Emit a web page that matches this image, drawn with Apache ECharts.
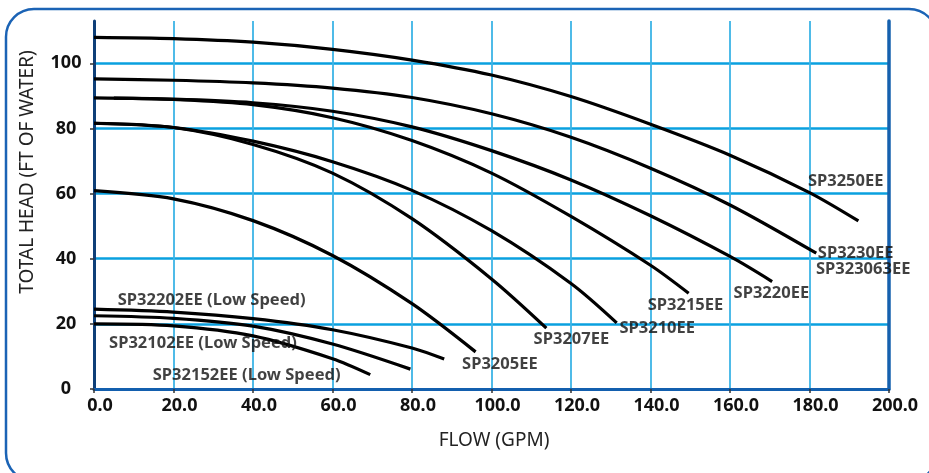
<!DOCTYPE html>
<html><head><meta charset="utf-8">
<script src="https://cdn.jsdelivr.net/npm/echarts@6/dist/echarts.min.js"></script>
<style>html,body{margin:0;padding:0;background:#fff}#c{width:929px;height:473px}</style>
</head><body><div id="c"></div>
<script>
// ---- data (flow GPM, head ft) ----
const xTicks = [0, 20, 40, 60, 80, 100, 120, 140, 160, 180, 200];
const yTicks = [0, 20, 40, 60, 80, 100];
const seriesNames = ['SP3250EE','SP3230EE','SP3220EE','SP3215EE','SP3210EE','SP3207EE','SP3205EE','SP32202EE (Low Speed)','SP32102EE (Low Speed)','SP32152EE (Low Speed)'];
const sp3250 = [[0,108],[20,107.6],[40,106.5],[60,104.3],[80,101.0],[100,96.4],[120,89.8],[140,81.3],[160,71.8],[180,60.3],[192.3,51.6]];
const sp3230 = [[0,95.2],[20,94.8],[40,94.0],[60,92.4],[80,89.5],[100,84.5],[120,77.3],[140,67.8],[160,56.5],[181.7,41.7]];
const sp3220 = [[0,89.4],[20,89.0],[40,87.9],[60,85.3],[80,80.5],[100,73.2],[120,64.2],[140,53.2],[160,40.7],[170.6,33.0]];
const sp3215 = [[5,89.3],[20,88.9],[40,87.3],[60,83.3],[80,76.3],[100,66.3],[120,53.0],[140,38.0],[149.6,29.4]];
const sp3210 = [[0,81.6],[20,80.3],[40,76.1],[60,69.8],[80,61.0],[100,48.6],[120,32.4],[131.5,20.3]];
const sp3207 = [[0,81.6],[20,80.3],[40,75.1],[60,66.3],[80,52.3],[100,33.8],[113.8,18.7]];
const sp3205 = [[0,60.9],[20,58.4],[40,51.7],[60,41.0],[80,26.2],[96,11.4]];
const sp32202 = [[0,24.5],[20,23.6],[40,21.6],[60,18.2],[80,12.6],[88.1,9.2]];
const sp32102 = [[0,22.5],[20,21.7],[40,19.3],[60,13.8],[79.6,6.1]];
const sp32152 = [[0,20.0],[20,19.4],[40,16.3],[60,9.3],[69.5,4.4]];
const curves = [sp3250, sp3230, sp3220, sp3215, sp3210, sp3207, sp3205, sp32202, sp32102, sp32152];
// curve label texts and their anchor (flow, head)
const labelTexts = ['SP3250EE','SP3230EE','SP323063EE','SP3220EE','SP3215EE','SP3210EE','SP3207EE','SP3205EE','SP32202EE (Low Speed)','SP32102EE (Low Speed)','SP32152EE (Low Speed)'];
const labelFlow = [189.1, 191.6, 193.5, 170.4, 148.8, 141.7, 120.1, 102.1, 29.6, 27.4, 38.4];
const labelHead = [63.9, 41.8, 36.8, 29.3, 25.7, 18.5, 15.2, 7.5, 27.2, 14.1, 4.2];
const xTitle = 'FLOW (GPM)';
const yTitle = 'TOTAL HEAD (FT OF WATER)';

const chart = echarts.init(document.getElementById('c'));
const FONT = "'Noto Sans', 'DejaVu Sans', sans-serif";
const lineSeries = curves.map((d, i) => ({
  name: seriesNames[i], type: 'line', data: d, smooth: 0.3, showSymbol: false,
  lineStyle: { color: '#000', width: 3.2 }, silent: true, z: 3
}));
const labelSeries = {
  type: 'scatter', symbolSize: 0, silent: true, z: 5,
  data: labelTexts.map((t, i) => ({ name: t, value: [labelFlow[i], labelHead[i]] })),
  label: { show: true, position: 'inside', formatter: '{b}', color: '#111',
    fontFamily: FONT, fontWeight: 'bold', fontSize: 16.5 }
};
chart.setOption({
  backgroundColor: '#fff',
  animation: false,
  grid: { left: 94, right: 40, top: 21, bottom: 84 },
  xAxis: {
    type: 'value', min: xTicks[0], max: xTicks[xTicks.length-1], interval: 20,
    axisLine: { show: true, onZero: false, lineStyle: { color: '#135fae', width: 3 } },
    axisTick: { show: true, length: 4, lineStyle: { color: '#333', width: 1.5 } },
    axisLabel: { margin: 8, formatter: v => v.toFixed(1), color: '#111', fontFamily: FONT,
      fontWeight: 'bold', fontSize: 18, padding: [0,0,0,12] },
    splitLine: { show: true, showMinLine: false, showMaxLine: false, lineStyle: { color: '#3cb4e6', width: 1.8 } }
  },
  yAxis: [{
    type: 'value', min: 0, max: 113, interval: 20,
    axisLine: { show: true, onZero: false, lineStyle: { color: '#0e3f78', width: 3 } },
    axisTick: { show: true, length: 4, lineStyle: { color: '#333', width: 1.5 } },
    axisLabel: { margin: 28, align: 'center', showMaxLabel: false,
      formatter: v => (yTicks.indexOf(v) >= 0 ? String(v) : ''),
      color: '#111', fontFamily: FONT, fontWeight: 'bold', fontSize: 18, padding: [0,0,8,0] },
    splitLine: { show: true, showMinLine: false, showMaxLine: false, lineStyle: { color: '#0aa0df', width: 2.5 } }
  }, {
    type: 'value', min: 0, max: 113, position: 'right',
    axisLine: { show: true, onZero: false, lineStyle: { color: '#1560ae', width: 3.5 } },
    axisTick: { show: false }, axisLabel: { show: false }, splitLine: { show: false }
  }],
  series: lineSeries.concat([labelSeries]),
  graphic: [
    { type: 'rect', shape: { x: 6, y: 9, width: 931, height: 472, r: 28 },
      style: { fill: 'none', stroke: '#1b63b5', lineWidth: 2.5 }, silent: true },
    { type: 'text', x: 494, y: 441, silent: true,
      style: { text: xTitle, fill: '#222', font: "19px 'Noto Sans', sans-serif", textAlign: 'center', textVerticalAlign: 'middle' } },
    { type: 'text', x: 28, y: 172, rotation: Math.PI / 2, silent: true,
      style: { text: yTitle, fill: '#222', font: "19px 'Noto Sans', sans-serif", textAlign: 'center', textVerticalAlign: 'middle' } }
  ]
});
</script></body></html>
